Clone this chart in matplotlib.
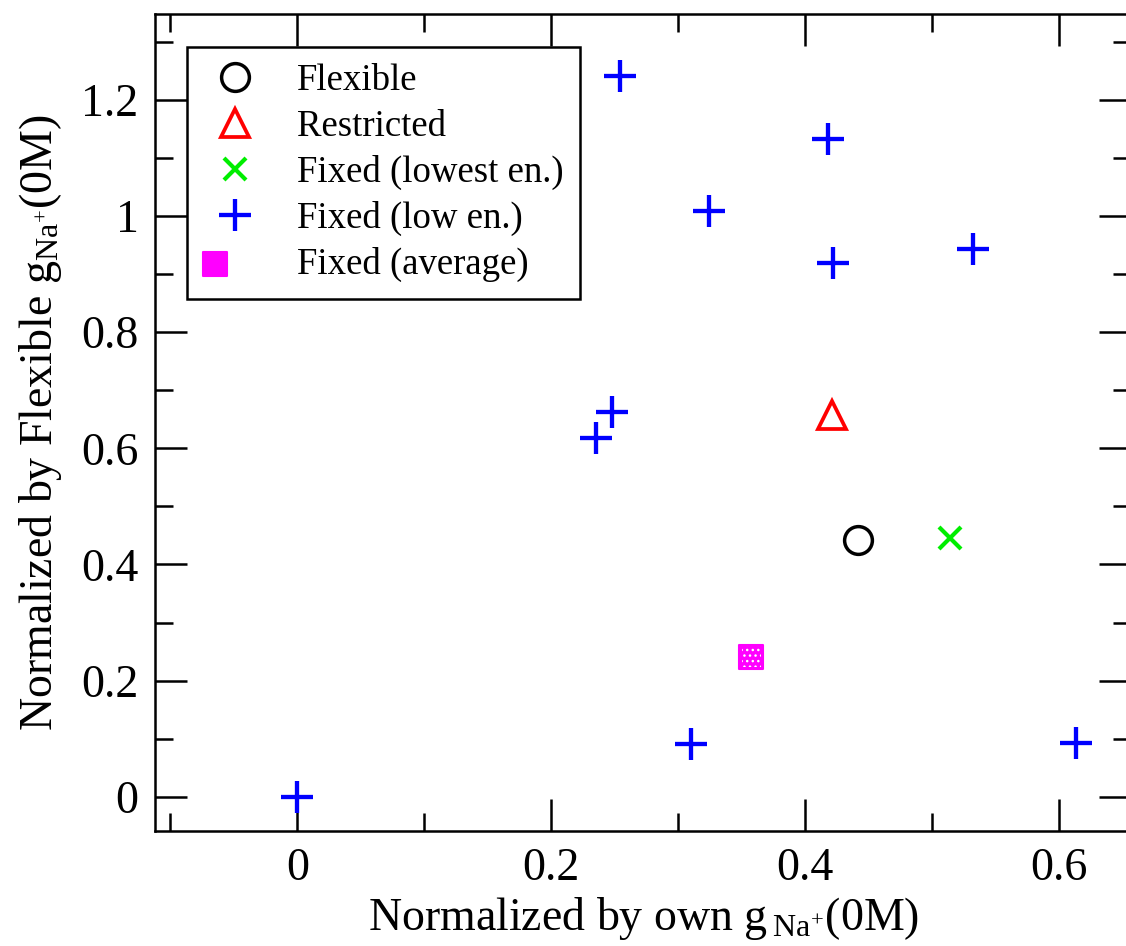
import matplotlib
matplotlib.use("Agg")
import matplotlib.pyplot as plt
from matplotlib.ticker import MultipleLocator, FormatStrFormatter
from matplotlib.legend_handler import HandlerTuple

plt.rcParams['font.family'] = ['Liberation Serif', 'DejaVu Serif']
plt.rcParams['mathtext.fontset'] = 'custom'
plt.rcParams['mathtext.rm'] = 'Liberation Serif'
plt.rcParams['mathtext.it'] = 'Liberation Serif:italic'
plt.rcParams['mathtext.bf'] = 'Liberation Serif:bold'
plt.rcParams['hatch.linewidth'] = 1.0

# ---- data ----
flex_x = [0.442]
flex_y = [0.442]
restr_x = [0.421]
restr_y = [0.658]
lowest_x = [0.514]
lowest_y = [0.446]
low_x = [0.0, 0.310, 0.613, 0.235, 0.248, 0.254, 0.418, 0.3245, 0.422, 0.532]
low_y = [0.0, 0.090, 0.0925, 0.618, 0.662, 1.242, 1.132, 1.009, 0.919, 0.944]
avg_x = [0.3576]
avg_y = [0.240]

labels = ["Flexible", "Restricted", "Fixed (lowest en.)", "Fixed (low en.)", "Fixed (average)"]

W, H = 1126, 946
fig = plt.figure(figsize=(W / 100, H / 100), dpi=100)

xmin, xmax = -0.112, 0.657
ymin, ymax = -0.0586, 1.348
x0px = 297.3 + 1269.5 * xmin
x1px = 297.3 + 1269.5 * xmax
y0px = 796.7 - 580.6 * ymin
y1px = 796.7 - 580.6 * ymax
ax = fig.add_axes([x0px / W, 1 - y0px / H, (x1px - x0px) / W, (y0px - y1px) / H])
ax.set_xlim(xmin, xmax)
ax.set_ylim(ymin, ymax)

h1, = ax.plot(flex_x, flex_y, ls='none', marker='o', ms=20, mfc='none', mec='black', mew=2.5)
h2, = ax.plot(restr_x, restr_y, ls='none', marker='^', ms=20, mfc='none', mec='red', mew=2.7)
h3, = ax.plot(lowest_x, lowest_y, ls='none', marker='x', ms=16, mec='#00ee00', mew=3.0)
h4, = ax.plot(low_x, low_y, ls='none', marker='+', ms=23, mec='blue', mew=3.1)
h5a = ax.scatter(avg_x, avg_y, marker='s', s=17**2, facecolor='magenta', edgecolor='magenta', linewidths=1.5, zorder=3)
h5b = ax.scatter(avg_x, avg_y, marker='s', s=14**2, facecolor='none', edgecolor='white', linewidths=0, hatch='...', zorder=4)

for l in (h2, h3, h4):
    l.set_solid_capstyle('round')
    l.set_dash_capstyle('round')

ax.xaxis.set_major_locator(MultipleLocator(0.2))
ax.xaxis.set_minor_locator(MultipleLocator(0.1))
ax.yaxis.set_major_locator(MultipleLocator(0.2))
ax.yaxis.set_minor_locator(MultipleLocator(0.1))
ax.xaxis.set_major_formatter(FormatStrFormatter('%g'))
ax.yaxis.set_major_formatter(FormatStrFormatter('%g'))

ax.tick_params(which='both', direction='in', top=True, right=True, width=1.8, labelsize=33)
ax.tick_params(which='major', length=23, pad=12)
ax.tick_params(which='minor', length=13)
for s in ax.spines.values():
    s.set_linewidth(1.8)

ax.set_xlabel(r"Normalized by own g$\,_{\mathrm{Na}^{+}}$(0M)", fontsize=33, labelpad=4)
ax.set_ylabel(r"Normalized by Flexible g$_{\mathrm{Na}^{+}}$(0M)", fontsize=33, labelpad=12)

leg = ax.legend([h1, h2, h3, h4, (h5a, h5b)], labels,
                handler_map={tuple: HandlerTuple(ndivide=None)},
                loc='upper left', bbox_to_anchor=(0.0328, 0.9596), borderaxespad=0,
                fontsize=26.5, frameon=True, fancybox=False, framealpha=1,
                edgecolor='black', handlelength=1.7, handletextpad=0.83,
                borderpad=0.45, labelspacing=0.30, scatterpoints=1, numpoints=1)
leg.get_frame().set_linewidth(1.8)

fig.savefig("out.png", dpi=100)
